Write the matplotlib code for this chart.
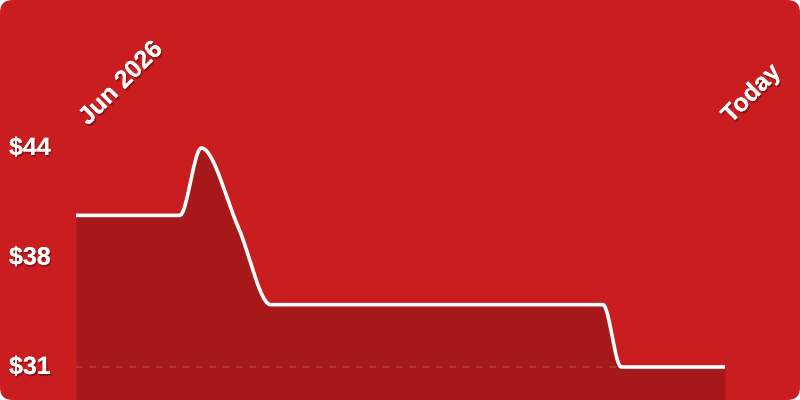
import numpy as np
import matplotlib
matplotlib.use("Agg")
from matplotlib import pyplot as plt
from matplotlib.patches import FancyBboxPatch
import matplotlib.patheffects as pe

# price history, x = percent of the time span from Jun 2026 to today
days = [0, 16, 19.3, 25, 30, 81.2, 84, 100]
prices = [40.0, 40.0, 44.0, 39.3, 34.7, 34.7, 31.0, 31.0]
tick_values = [44, 37.5, 31]
tick_labels = ["$44", "$38", "$31"]
start_label = "Jun 2026"
end_label = "Today"

bg = "#C91D1F"
fill_col = "#A6181A"


def monotone(x, y, n=600):
    # Fritsch-Carlson monotone cubic, like d3 curveMonotoneX
    x = np.asarray(x, float)
    y = np.asarray(y, float)
    h = np.diff(x)
    d = np.diff(y) / h
    m = np.zeros_like(y)
    m[0], m[-1] = d[0], d[-1]
    for i in range(1, len(y) - 1):
        if d[i - 1] * d[i] <= 0:
            m[i] = 0
        else:
            w1 = 2 * h[i] + h[i - 1]
            w2 = h[i] + 2 * h[i - 1]
            m[i] = (w1 + w2) / (w1 / d[i - 1] + w2 / d[i])
    xs = np.linspace(x[0], x[-1], n)
    idx = np.clip(np.searchsorted(x, xs) - 1, 0, len(h) - 1)
    t = (xs - x[idx]) / h[idx]
    h00 = 2 * t**3 - 3 * t**2 + 1
    h10 = t**3 - 2 * t**2 + t
    h01 = -2 * t**3 + 3 * t**2
    h11 = t**3 - t**2
    ys = h00 * y[idx] + h10 * h[idx] * m[idx] + h01 * y[idx + 1] + h11 * h[idx] * m[idx + 1]
    return xs, ys


fig = plt.figure(figsize=(8, 4), dpi=100)
fig.patch.set_facecolor("white")
fig.patches.append(FancyBboxPatch((0, 0), 1, 1, boxstyle="round,pad=0,rounding_size=0.016",
                                  transform=fig.transFigure, facecolor=bg, edgecolor="none",
                                  mutation_aspect=2, zorder=-10))

ax = fig.add_axes([76 / 800, 0, 649 / 800, 1])
ax.set_facecolor("none")
px = (367 - 148) / 13.0  # pixels per dollar
ax.set_xlim(0, 100)
ax.set_ylim(31 - (400 - 367) / px, 44 + 148 / px)
ax.axis("off")

xs, ys = monotone(days, prices)
ax.fill_between(xs, ys, ax.get_ylim()[0], color=fill_col, lw=0, zorder=1)
ax.plot(xs, ys, color="white", lw=2.6, solid_capstyle="butt", zorder=3)
ax.axhline(31, color="white", lw=1.2, ls=(0, (4, 4)), alpha=0.16, zorder=2)

shadow = [pe.withSimplePatchShadow(offset=(1, -1.5), shadow_rgbFace="black", alpha=0.3), pe.Normal()]
font = dict(family=["Liberation Sans", "DejaVu Sans"], weight="bold", color="white", fontsize=18)

for v, lab in zip(tick_values, tick_labels):
    fig.text(9 / 800, 1 - (148 + (44 - v) * px) / 400, lab, ha="left", va="center",
             path_effects=shadow, **font)

fig.text(88 / 800, 1 - 126 / 400, start_label, rotation=45, rotation_mode="anchor",
         ha="left", va="baseline", path_effects=shadow, **font)
fig.text(731 / 800, 1 - 124 / 400, end_label, rotation=45, rotation_mode="anchor",
         ha="left", va="baseline", path_effects=shadow, **font)

fig.savefig("out.png", dpi=100)
